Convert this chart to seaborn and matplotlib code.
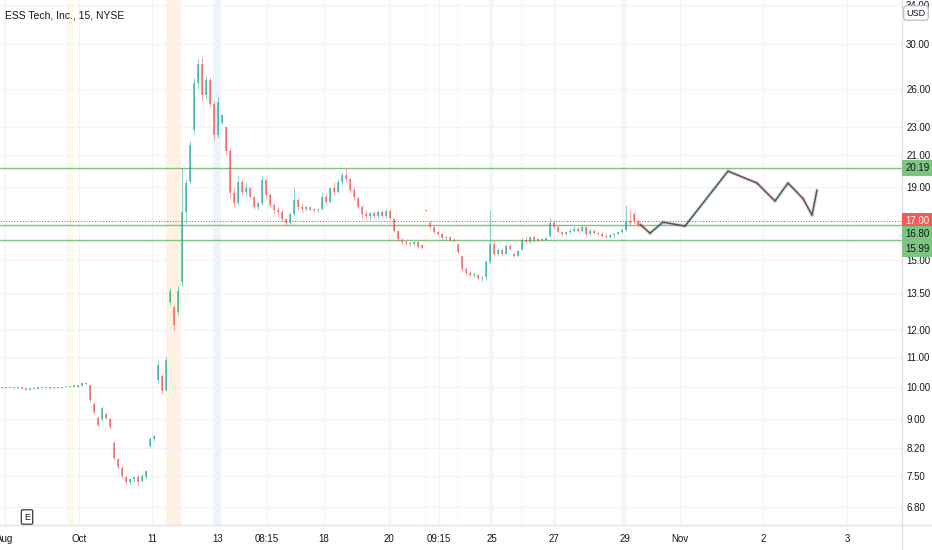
import numpy as np
import pandas as pd
import matplotlib
matplotlib.use("Agg")
import matplotlib.pyplot as plt
import seaborn as sns
from matplotlib.ticker import FixedLocator, FixedFormatter, NullLocator
from matplotlib.lines import Line2D

# ---------------- data (15-min candles, ESS Tech) ----------------
opens = [
    9.97, 9.96, 9.95, 9.95, 9.94, 9.94, 9.93, 9.90, 9.92, 9.93,
    9.94, 9.95, 9.94, 9.96, 9.97, 9.96, 9.98, 9.99, 10.00, 10.00,
    10.02, 10.12, 10.05, 9.45, 9.05, 9.00, 9.15, 9.00, 8.35, 7.92,
    7.70, 7.48, 7.35, 7.42, 7.48, 7.38, 7.48, 8.25, 8.45, 10.20,
    10.35, 9.90, 13.10, 12.90, 12.70, 14.00, 17.50, 19.30, 22.80, 26.50,
    28.20, 25.50, 26.80, 24.80, 22.40, 23.30, 23.00, 21.30, 18.60, 18.00,
    19.30, 18.70, 18.90, 18.40, 17.80, 18.00, 19.40, 18.50, 17.90, 17.60,
    17.50, 17.10, 16.90, 17.40, 18.20, 17.80, 17.70, 17.80, 17.65, 17.60,
    17.70, 18.40, 18.10, 18.90, 18.70, 19.30, 19.70, 19.50, 18.80, 18.30,
    17.80, 17.40, 17.30, 17.45, 17.30, 17.50, 17.30, 17.55, 17.10, 16.50,
    16.00, 15.90, 15.85, 15.80, 15.90, 15.75, 17.60, 16.90, 16.70, 16.40,
    16.30, 16.10, 16.15, 16.00, 15.80, 15.20, 14.60, 14.40, 14.30, 14.30,
    14.15, 14.20, 14.90, 15.80, 15.30, 15.50, 15.30, 15.70, 15.30, 15.20,
    15.50, 16.00, 15.90, 16.15, 15.95, 16.05, 16.02, 16.20, 16.90, 16.70,
    16.40, 16.30, 16.40, 16.50, 16.60, 16.50, 16.70, 16.30, 16.50, 16.35,
    16.30, 16.20, 16.15, 16.25, 16.30, 16.40, 16.55, 17.00, 17.40, 17.00,
]
highs = [
    9.98, 9.97, 9.96, 9.96, 9.95, 9.95, 9.93, 9.93, 9.94, 9.95,
    9.96, 9.96, 9.97, 9.98, 9.98, 9.99, 10.00, 10.01, 10.02, 10.04,
    10.16, 10.14, 10.06, 9.50, 9.10, 9.40, 9.20, 9.05, 8.40, 7.95,
    7.75, 7.50, 7.46, 7.50, 7.55, 7.55, 7.66, 8.50, 8.55, 10.90,
    10.40, 11.00, 13.70, 13.00, 13.80, 20.20, 19.50, 22.00, 26.90, 28.70,
    28.80, 27.20, 27.00, 25.00, 25.30, 24.00, 23.00, 21.50, 19.00, 19.70,
    19.50, 19.20, 19.00, 18.50, 18.10, 19.70, 19.50, 18.60, 18.00, 17.80,
    17.60, 17.20, 17.50, 19.00, 18.30, 18.00, 17.90, 17.85, 17.75, 17.70,
    18.70, 18.60, 19.00, 19.30, 19.50, 19.90, 20.15, 19.60, 19.00, 18.40,
    17.90, 17.60, 17.50, 17.55, 17.60, 17.60, 17.70, 17.70, 17.20, 16.50,
    16.10, 16.00, 15.90, 15.95, 15.95, 15.80, 17.65, 17.05, 16.75, 16.50,
    16.35, 16.20, 16.20, 16.10, 15.80, 15.20, 14.70, 14.50, 14.40, 14.35,
    14.25, 15.00, 17.60, 16.00, 15.60, 15.60, 15.80, 15.80, 15.40, 15.50,
    16.10, 16.20, 16.20, 16.25, 16.10, 16.10, 16.15, 17.20, 17.05, 16.80,
    16.50, 16.45, 16.60, 16.75, 16.70, 16.80, 16.75, 16.60, 16.60, 16.45,
    16.40, 16.30, 16.30, 16.35, 16.45, 16.60, 17.90, 17.60, 17.50, 17.10,
]
lows = [
    9.95, 9.94, 9.94, 9.93, 9.93, 9.92, 9.88, 9.89, 9.91, 9.92,
    9.93, 9.93, 9.93, 9.95, 9.95, 9.95, 9.97, 9.98, 9.99, 9.99,
    10.01, 10.05, 9.50, 9.15, 8.80, 8.95, 9.00, 8.72, 7.90, 7.68,
    7.45, 7.30, 7.30, 7.36, 7.30, 7.36, 7.44, 8.20, 8.40, 10.10,
    9.75, 9.85, 13.00, 12.00, 12.60, 13.80, 16.90, 19.20, 22.60, 26.00,
    25.00, 25.20, 24.50, 22.10, 22.20, 23.20, 21.00, 18.30, 17.80, 17.90,
    18.50, 18.40, 18.30, 17.70, 17.60, 17.90, 18.30, 17.80, 17.40, 17.30,
    17.00, 16.80, 16.85, 17.30, 17.60, 17.50, 17.55, 17.60, 17.50, 17.50,
    17.60, 17.90, 18.00, 18.50, 18.60, 19.10, 19.30, 18.60, 18.20, 17.70,
    17.20, 17.10, 17.10, 17.20, 17.20, 17.25, 17.20, 17.10, 16.40, 15.95,
    15.80, 15.75, 15.70, 15.70, 15.60, 15.55, 17.55, 16.60, 16.30, 16.20,
    16.05, 16.00, 15.95, 15.90, 15.35, 14.50, 14.30, 14.25, 14.20, 14.10,
    14.05, 14.10, 14.80, 15.20, 15.20, 15.20, 15.30, 15.50, 15.15, 15.15,
    15.50, 15.85, 15.85, 15.90, 15.95, 15.98, 16.00, 16.15, 16.60, 16.35,
    16.20, 16.20, 16.30, 16.40, 16.45, 16.45, 16.20, 16.25, 16.30, 16.20,
    16.15, 16.10, 16.10, 16.15, 16.25, 16.35, 16.50, 16.80, 16.90, 16.70,
]
closes = [
    9.96, 9.95, 9.95, 9.94, 9.94, 9.93, 9.90, 9.92, 9.93, 9.94,
    9.95, 9.94, 9.96, 9.97, 9.96, 9.98, 9.99, 10.00, 10.00, 10.02,
    10.12, 10.08, 9.58, 9.20, 8.85, 9.32, 9.05, 8.78, 7.95, 7.72,
    7.50, 7.35, 7.42, 7.48, 7.36, 7.50, 7.62, 8.45, 8.52, 10.70,
    9.85, 10.90, 13.60, 12.20, 13.60, 17.50, 19.20, 21.70, 26.50, 28.20,
    25.50, 26.80, 24.80, 22.40, 24.90, 23.90, 21.30, 18.60, 18.00, 19.30,
    18.70, 18.90, 18.40, 17.80, 18.00, 19.40, 18.50, 17.90, 17.60, 17.50,
    17.10, 16.90, 17.40, 18.20, 17.80, 17.70, 17.80, 17.65, 17.60, 17.65,
    18.40, 18.10, 18.90, 18.70, 19.30, 19.70, 19.50, 18.80, 18.40, 17.80,
    17.40, 17.30, 17.45, 17.30, 17.50, 17.30, 17.55, 17.20, 16.50, 16.05,
    15.90, 15.85, 15.80, 15.90, 15.65, 15.60, 17.58, 16.70, 16.40, 16.30,
    16.10, 16.15, 16.00, 15.95, 15.40, 14.60, 14.40, 14.30, 14.35, 14.15,
    14.20, 14.90, 15.80, 15.30, 15.50, 15.30, 15.70, 15.55, 15.20, 15.45,
    16.00, 15.90, 16.15, 15.95, 16.05, 16.02, 16.12, 16.90, 16.70, 16.40,
    16.30, 16.40, 16.50, 16.60, 16.50, 16.70, 16.30, 16.50, 16.35, 16.30,
    16.20, 16.15, 16.25, 16.30, 16.40, 16.55, 17.00, 16.90, 17.00, 16.80,
]

# projected path (bar offset, price)
proj_bars = [159.5, 162.0, 165.25, 170.75, 181.5, 188.75, 193.25, 196.5, 200.25, 202.5, 203.75]
proj_prices = [16.84, 16.36, 16.95, 16.74, 19.97, 19.22, 18.14, 19.22, 18.29, 17.34, 18.79]

# horizontal levels
support_levels = [20.19, 16.80, 15.99]
last_price = 17.00

# axis labels
price_ticks = [6.80, 7.50, 8.20, 9.00, 10.00, 11.00, 12.00, 13.50, 15.00, 19.00, 21.00, 23.00, 26.00, 30.00, 34.00]
time_tick_bars = [0.75, 19.25, 37.5, 54.0, 66.25, 80.5, 96.75, 109.25, 122.5, 138.0, 155.75, 169.5, 190.25, 211.25]
time_tick_labels = ["Aug", "Oct", "11", "13", "08:15", "18", "20", "09:15", "25", "27", "29", "Nov", "2", "3"]

# ---------------- style ----------------
sns.set_style("white")
plt.rcParams["font.family"] = ["Liberation Sans Narrow", "Liberation Sans", "DejaVu Sans"]
TXT = "#131722"
UP = "#26a69a"
DN = "#ef5350"
LVL = "#7cc47f"

W, H = 932, 550
fig = plt.figure(figsize=(W / 100, H / 100), dpi=100)
fig.patch.set_facecolor("white")
ax = fig.add_axes([0, 25 / H, 902 / W, 525 / H])
ax.set_facecolor("white")
ax.set_yscale("log")
ax.set_xlim(-0.5, 225)
ax.set_ylim(6.41, 34.6)

# session shading bands
bands = [(16.2, 17.8, "#fff8ee"), (41.0, 44.8, "#fef2e2"), (52.8, 54.8, "#eaf5fd"),
         (96.5, 97.5, "#fffbf3"), (105.2, 106.2, "#fffbf3"), (113.3, 114.3, "#fffcf6"),
         (121.8, 122.6, "#f0f8fd"), (129.5, 130.5, "#fcfbf6"), (137.8, 138.6, "#fcfbf6"),
         (154.8, 155.8, "#f4f6f8")]
for a, b, c in bands:
    ax.axvspan(a, b, color=c, lw=0, zorder=0)

# grid / ticks
ax.yaxis.set_major_locator(FixedLocator(price_ticks))
ax.yaxis.set_major_formatter(FixedFormatter([f"{v:.2f}" for v in price_ticks]))
ax.yaxis.set_minor_locator(NullLocator())
ax.xaxis.set_major_locator(FixedLocator(time_tick_bars))
ax.xaxis.set_major_formatter(FixedFormatter(time_tick_labels))
ax.yaxis.tick_right()
ax.tick_params(axis="y", length=0, pad=3, labelsize=7, labelcolor=TXT)
ax.tick_params(axis="x", length=0, pad=6.5, labelsize=7, labelcolor=TXT)
ax.grid(True, color="#f2f3f7", lw=0.9, zorder=0)
ax.set_axisbelow(True)
for s in ["top", "left"]:
    ax.spines[s].set_visible(False)
for s in ["right", "bottom"]:
    ax.spines[s].set_color("#e0e3eb")
    ax.spines[s].set_linewidth(1.0)
fig.add_artist(Line2D([902 / W, 1], [25 / H, 25 / H], color="#e0e3eb", lw=1.0))
fig.add_artist(Line2D([902 / W, 902 / W], [0, 25 / H], color="#e0e3eb", lw=1.0))

# candles
df = pd.DataFrame({"o": opens, "h": highs, "l": lows, "c": closes})
df["i"] = np.arange(len(df))
cols = np.where(df["c"] >= df["o"], UP, DN)
ax.vlines(df["i"], df["l"], df["h"], colors=cols, lw=0.6, alpha=0.6, zorder=3)
bottom = np.minimum(df["o"], df["c"])
height = np.maximum(np.abs(df["c"] - df["o"]), bottom * 0.004)
ax.bar(df["i"], height, bottom=bottom, width=0.42, color=cols, alpha=0.62, lw=0, zorder=3)

# levels
for lv in support_levels:
    ax.axhline(lv, color=LVL, lw=1.0, zorder=2)
ax.axhline(last_price, color=DN, lw=0.8, ls=(0, (1, 1.5)), zorder=2)

# projection path: faint direction-tinted halo + dark line
for k in range(len(proj_bars) - 1):
    seg_col = UP if proj_prices[k + 1] >= proj_prices[k] else DN
    ax.plot(proj_bars[k:k + 2], proj_prices[k:k + 2], color=seg_col, lw=3.0, alpha=0.18,
            solid_capstyle="round", zorder=3)
sns.lineplot(x=proj_bars, y=proj_prices, ax=ax, color="#4d4d4d", lw=1.2, sort=False, zorder=4, alpha=0.9)

# right-axis price labels
ytr = ax.get_yaxis_transform()
lbls = [(support_levels[0], 0, LVL, TXT), (last_price, 0, "#f05a5a", "white"),
        (support_levels[1], -9.5, LVL, TXT), (support_levels[2], -8.4, LVL, TXT)]
for val, off, fc, tc in lbls:
    ax.annotate(f"{val:.2f}", xy=(1, val), xycoords=ytr, xytext=(2.5, off * 0.72),
                textcoords="offset points", ha="left", va="center", fontsize=7, color=tc,
                annotation_clip=False, zorder=10,
                bbox=dict(boxstyle="square,pad=0.32", fc=fc, ec="none"))

# header / markers
fig.text(916 / W, 1 - 13 / H, "USD", ha="center", va="center", fontsize=6.5, color=TXT,
         bbox=dict(boxstyle="round,pad=0.3,rounding_size=0.3", fc="white", ec="#b2b5be", lw=0.8))
fig.text(5 / W, 1 - 15 / H, "ESS Tech, Inc., 15, NYSE", ha="left", va="center", fontsize=7.5, color=TXT)
fig.text(27 / W, 1 - 517 / H, "E", ha="center", va="center", fontsize=6.5, color=TXT,
         bbox=dict(boxstyle="round,pad=0.3,rounding_size=0.15", fc="white", ec="#3a3a3a", lw=0.9))

fig.savefig("out.png", dpi=100, facecolor="white")
